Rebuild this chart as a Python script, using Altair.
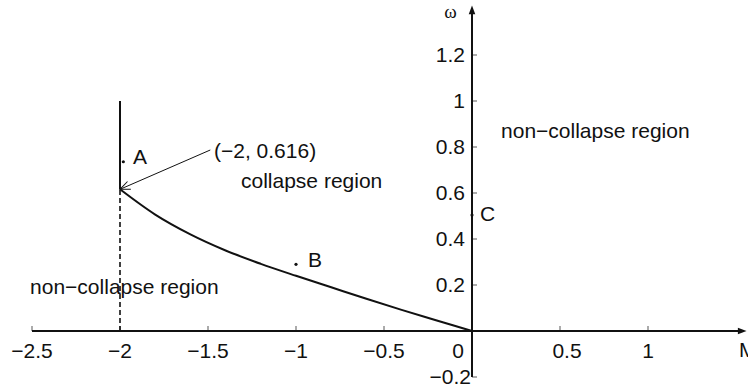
import math
import altair as alt
import pandas as pd

# ---- data ----
curve_M = [-2.0, -1.8, -1.6, -1.4, -1.2, -1.0, -0.8, -0.6, -0.4, -0.2, 0.0]
curve_w = [0.616, 0.506, 0.420, 0.350, 0.292, 0.240, 0.190, 0.140, 0.092, 0.046, 0.0]

x_ticks = [-2.5, -2.0, -1.5, -1.0, -0.5, 0.0, 0.5, 1.0]
x_tick_labels = ["−2.5", "−2", "−1.5", "−1", "−0.5", "0", "0.5", "1"]
y_ticks = [-0.2, 0.2, 0.4, 0.6, 0.8, 1.0, 1.2]
y_tick_labels = ["−0.2", "0.2", "0.4", "0.6", "0.8", "1", "1.2"]

point_names = ["A", "B", "C"]
point_M = [-1.981, -1.0, 0.0]
point_w = [0.736, 0.290, 0.504]
point_label_M = [-1.926, -0.932, 0.045]
point_label_w = [0.725, 0.280, 0.477]

region_texts = ["non−collapse region", "collapse region", "non−collapse region"]
region_M = [-2.511, -1.3125, 0.165]
region_w = [0.161, 0.620, 0.841]

critical_M = -2.0
critical_w = 0.616
critical_label = "(−2, 0.616)"
critical_label_M = -1.466
critical_label_w = 0.753
arrow_start_M = -1.487
arrow_start_w = 0.787
wall_top_w = 1.0

x_axis_range = [-2.5, 1.56]
y_axis_range = [-0.2, 1.415]
x_axis_name = "M"
x_name_pos = [1.517, -0.113]
y_axis_name = "ω"
y_name_pos = [-0.122, 1.36]

# ---- layout ----
W, H = 748, 390
XDOM = [-472 / 176, (W - 472) / 176]
YDOM = [-(H - 331) / 230, 331 / 230]
FONT = "Liberation Sans"
FS = 21
INK = "#111111"


def X(f):
    return alt.X(f, type="quantitative", scale=alt.Scale(domain=XDOM, nice=False, zero=False), axis=None)


def Y(f):
    return alt.Y(f, type="quantitative", scale=alt.Scale(domain=YDOM, nice=False, zero=False), axis=None)


# axes lines
xaxis_df = pd.DataFrame({"x": [x_axis_range[0]], "x2": [x_axis_range[1] - 0.03], "y": [0.0]})
yaxis_df = pd.DataFrame({"x": [0.0], "y": [y_axis_range[0]], "y2": [y_axis_range[1] - 0.03]})
x_axis_line = alt.Chart(xaxis_df).mark_rule(color=INK, strokeWidth=2).encode(x=X("x"), x2="x2", y=Y("y"))
y_axis_line = alt.Chart(yaxis_df).mark_rule(color=INK, strokeWidth=2).encode(x=X("x"), y=Y("y"), y2="y2")

head_path = "M0,0L-1,-0.38L-1,0.38Z"
xhead = alt.Chart(pd.DataFrame({"x": [x_axis_range[1]], "y": [0.0]})).mark_point(
    shape=head_path, filled=True, size=300, angle=0, color=INK, opacity=1
).encode(x=X("x"), y=Y("y"))
yhead = alt.Chart(pd.DataFrame({"x": [0.0], "y": [y_axis_range[1]]})).mark_point(
    shape=head_path, filled=True, size=300, angle=270, color=INK, opacity=1
).encode(x=X("x"), y=Y("y"))

# ticks
xt_df = pd.DataFrame({"x": x_ticks, "y": [0.0] * len(x_ticks), "lab": x_tick_labels})
yt_df = pd.DataFrame({"x": [0.0] * len(y_ticks), "y": y_ticks, "lab": y_tick_labels})
x_tick_marks = alt.Chart(xt_df).mark_tick(orient="vertical", size=5, thickness=1, yOffset=-2.5, color=INK).encode(
    x=X("x"), y=Y("y"))
y_tick_marks = alt.Chart(yt_df).mark_tick(orient="horizontal", size=5, thickness=1, xOffset=2.5, color=INK).encode(
    x=X("x"), y=Y("y"))

xlab_common = dict(font=FONT, fontSize=FS, color=INK, align="center", baseline="alphabetic", dy=27)
x_labels = alt.Chart(xt_df).transform_filter("datum.x != 0 && datum.x != 0.5").mark_text(**xlab_common).encode(
    x=X("x"), y=Y("y"), text="lab:N")
x_label0 = alt.Chart(xt_df).transform_filter("datum.x == 0").mark_text(dx=-14, **xlab_common).encode(
    x=X("x"), y=Y("y"), text="lab:N")
x_label05 = alt.Chart(xt_df).transform_filter("datum.x == 0.5").mark_text(dx=7, **xlab_common).encode(
    x=X("x"), y=Y("y"), text="lab:N")

ylab_common = dict(font=FONT, fontSize=FS, color=INK, align="right", baseline="middle", dy=1)
y_labels = alt.Chart(yt_df).transform_filter("datum.y > 0").mark_text(dx=-7, **ylab_common).encode(
    x=X("x"), y=Y("y"), text="lab:N")
y_label_neg = alt.Chart(yt_df).transform_filter("datum.y < 0").mark_text(dx=-1, **ylab_common).encode(
    x=X("x"), y=Y("y"), text="lab:N")

names_df = pd.DataFrame({"x": [x_name_pos[0], y_name_pos[0]], "y": [x_name_pos[1], y_name_pos[1]],
                         "t": [x_axis_name, y_axis_name]})
x_name = alt.Chart(names_df).transform_filter(f"datum.t == '{x_axis_name}'").mark_text(
    font=FONT, fontSize=FS, color=INK, align="left", baseline="alphabetic").encode(x=X("x"), y=Y("y"), text="t:N")
y_name = alt.Chart(names_df).transform_filter(f"datum.t == '{y_axis_name}'").mark_text(
    font="Liberation Serif", fontSize=19, color=INK, align="center", baseline="alphabetic").encode(
    x=X("x"), y=Y("y"), text="t:N")

# boundary curve
curve_df = pd.DataFrame({"M": curve_M, "w": curve_w})
curve = alt.Chart(curve_df).mark_line(color=INK, strokeWidth=2, interpolate="monotone").encode(
    x=X("M"), y=Y("w"), order="M:Q")

wall = alt.Chart(pd.DataFrame({"x": [critical_M], "y": [critical_w], "y2": [wall_top_w]})).mark_rule(
    color=INK, strokeWidth=2).encode(x=X("x"), y=Y("y"), y2="y2")
dashed = alt.Chart(pd.DataFrame({"x": [critical_M], "y": [0.0], "y2": [critical_w]})).mark_rule(
    color=INK, strokeWidth=1.6, strokeDash=[5, 3]).encode(x=X("x"), y=Y("y"), y2="y2")

# annotation arrow
arrow_df = pd.DataFrame({"x": [arrow_start_M], "y": [arrow_start_w], "x2": [critical_M], "y2": [critical_w]})
arrow_line = alt.Chart(arrow_df).mark_rule(color=INK, strokeWidth=1).encode(x=X("x"), y=Y("y"), x2="x2", y2="y2")
pxx = W / (XDOM[1] - XDOM[0])
pxy = H / (YDOM[1] - YDOM[0])
ang = math.degrees(math.atan2(-(critical_w - arrow_start_w) * pxy, (critical_M - arrow_start_M) * pxx)) % 360
arrow_head = alt.Chart(pd.DataFrame({"x": [critical_M], "y": [critical_w]})).mark_point(
    shape="M-1,-0.42L0,0L-1,0.42", filled=False, size=400, angle=ang, color=INK, strokeWidth=1, opacity=1
).encode(x=X("x"), y=Y("y"))
crit_text = alt.Chart(pd.DataFrame({"x": [critical_label_M], "y": [critical_label_w], "t": [critical_label]})).mark_text(
    font=FONT, fontSize=FS, color=INK, align="left", baseline="alphabetic").encode(x=X("x"), y=Y("y"), text="t:N")

# points A, B, C
pts_df = pd.DataFrame({"name": point_names, "M": point_M, "w": point_w, "lM": point_label_M, "lw": point_label_w})
dots = alt.Chart(pts_df).mark_circle(color=INK, size=10, opacity=1).encode(x=X("M"), y=Y("w"))
dot_labels = alt.Chart(pts_df).mark_text(font=FONT, fontSize=FS, color=INK, align="left", baseline="alphabetic").encode(
    x=X("lM"), y=Y("lw"), text="name:N")

reg_df = pd.DataFrame({"t": region_texts, "M": region_M, "w": region_w})
regions = alt.Chart(reg_df).mark_text(font=FONT, fontSize=FS, color=INK, align="left", baseline="alphabetic").encode(
    x=X("M"), y=Y("w"), text="t:N")

chart = alt.layer(
    dashed, wall, curve, x_axis_line, y_axis_line, xhead, yhead,
    x_tick_marks, y_tick_marks, x_labels, x_label0, x_label05, y_labels, y_label_neg,
    x_name, y_name, arrow_line, arrow_head, crit_text, dots, dot_labels, regions,
).properties(
    width=W, height=H, padding=0, autosize=alt.AutoSizeParams(type="none"), background="white"
).configure_view(stroke=None)

chart.save("out.html", embed_options={"renderer": "svg", "actions": False})
